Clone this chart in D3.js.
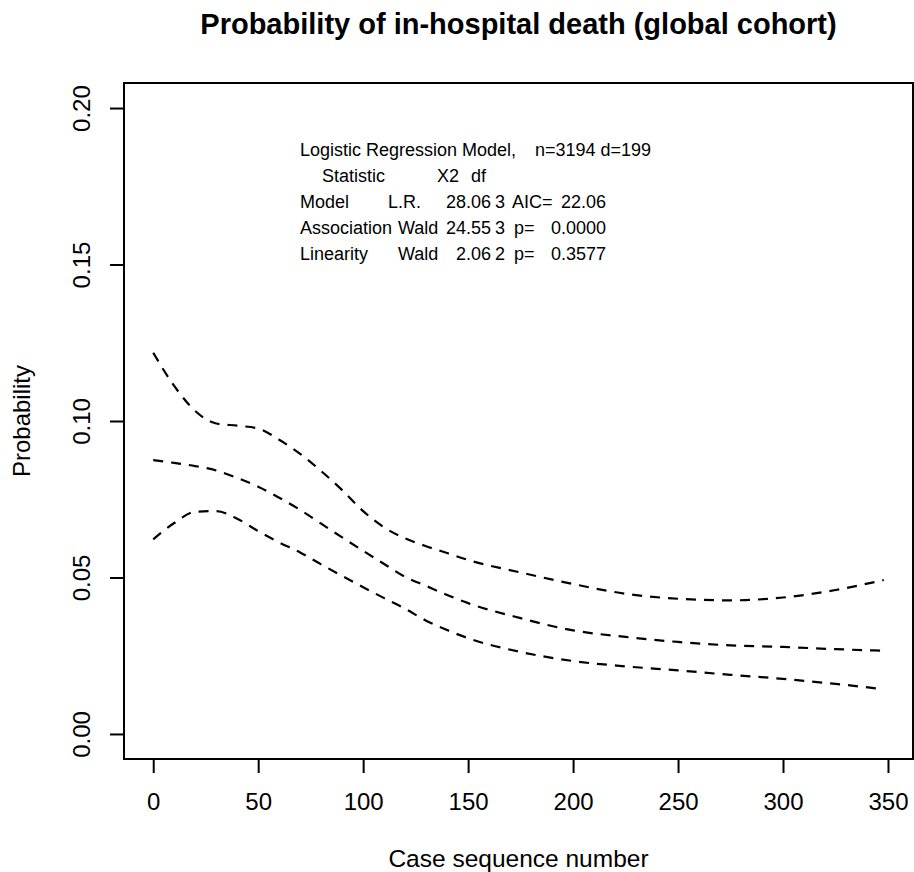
<!DOCTYPE html>
<html>
<head>
<meta charset="utf-8">
<script src="https://cdn.jsdelivr.net/npm/d3@7"></script>
<style>
  body { margin: 0; background: #fff; }
  text { font-family: "Liberation Sans", Arial, Helvetica, sans-serif; fill: #000; }
</style>
</head>
<body>
<svg id="chart" width="914" height="872"></svg>
<script>
var caseNo = [0, 10, 20, 30, 40, 50, 60, 70, 80, 90, 100, 110, 120, 130, 140, 150, 175, 200, 225, 250, 275, 300, 325, 348];
// fitted probability and its confidence band
var fitted = [0.0875, 0.0866, 0.0856, 0.0842, 0.0818, 0.0790, 0.0755, 0.0716, 0.0672, 0.0628, 0.0585, 0.0543, 0.0502, 0.0473, 0.0444, 0.0418, 0.0370, 0.0331, 0.0310, 0.0294, 0.0283, 0.0278, 0.0271, 0.0266];
var upper  = [0.1218, 0.1112, 0.1032, 0.0992, 0.0985, 0.0976, 0.0940, 0.0895, 0.0840, 0.0779, 0.0712, 0.0660, 0.0625, 0.0600, 0.0578, 0.0556, 0.0516, 0.0479, 0.0448, 0.0432, 0.0427, 0.0436, 0.0460, 0.0492];
var lower  = [0.0622, 0.0674, 0.0710, 0.0712, 0.0688, 0.0648, 0.0612, 0.0580, 0.0542, 0.0505, 0.0469, 0.0434, 0.0400, 0.0362, 0.0332, 0.0306, 0.0262, 0.0233, 0.0216, 0.0203, 0.0189, 0.0176, 0.0160, 0.0143];

var xTicks = [0, 50, 100, 150, 200, 250, 300, 350];
var yTicks = [0.00, 0.05, 0.10, 0.15, 0.20];

// model statistics printed in the plot, one row per line
var statsRows = [
  ["Logistic Regression Model,", "n=3194 d=199"],
  ["Statistic", "X2", "df"],
  ["Model", "L.R.", "28.06", "3", "AIC=", "22.06"],
  ["Association", "Wald", "24.55", "3", "p=", "0.0000"],
  ["Linearity", "Wald", "2.06", "2", "p=", "0.3577"]
];
// where each cell starts, same shape as statsRows (layout only)
var statsCols = [
  [300, 535],
  [322, 437, 471],
  [300, 388, 446, 495, 512, 561],
  [300, 398, 446, 495, 514, 551],
  [300, 398, 456, 495, 514, 551]
];

var svg = d3.select("#chart");
var box = {left: 124, right: 913, top: 83, bottom: 759};

// R style: 4% padding around the data range
var xMin = 0, xMax = 348, yMin = 0, yMax = 0.2;
var xPad = (xMax - xMin) * 0.04, yPad = (yMax - yMin) * 0.04;
var x = d3.scaleLinear().domain([xMin - xPad, xMax + xPad]).range([box.left, box.right]);
var y = d3.scaleLinear().domain([yMin - yPad, yMax + yPad]).range([box.bottom, box.top]);

svg.append("rect")
  .attr("x", box.left).attr("y", box.top)
  .attr("width", box.right - box.left).attr("height", box.bottom - box.top)
  .attr("fill", "none").attr("stroke", "#000").attr("stroke-width", 2);

var xAxis = svg.append("g")
  .attr("transform", "translate(0," + box.bottom + ")")
  .call(d3.axisBottom(x).tickValues(xTicks).tickSize(14).tickFormat(d3.format("d")));
var yAxis = svg.append("g")
  .attr("transform", "translate(" + box.left + ",0)")
  .call(d3.axisLeft(y).tickValues(yTicks).tickSize(14).tickFormat(d3.format(".2f")));

[xAxis, yAxis].forEach(function(a) {
  a.select(".domain").remove();
  a.selectAll(".tick line").attr("stroke", "#000").attr("stroke-width", 2);
  a.selectAll("text").style("font-size", "24px").attr("fill", "#000");
});
xAxis.selectAll(".tick text").attr("dy", null).attr("y", 51);

yAxis.selectAll(".tick text")
  .attr("x", null).attr("dy", null)
  .attr("transform", "translate(-34,0) rotate(-90)")
  .style("text-anchor", "middle");

var line = d3.line()
  .x(function(d) { return x(d[0]); })
  .y(function(d) { return y(d[1]); })
  .curve(d3.curveMonotoneX);

[upper, fitted, lower].forEach(function(series) {
  svg.append("path")
    .datum(caseNo.map(function(c, i) { return [c, series[i]]; }))
    .attr("d", line)
    .attr("fill", "none")
    .attr("stroke", "#000")
    .attr("stroke-width", 2.2)
    .attr("stroke-dasharray", "10,8");
});

svg.append("text")
  .attr("x", (box.left + box.right) / 2).attr("y", 34)
  .attr("text-anchor", "middle")
  .style("font-size", "29px").style("font-weight", "bold")
  .text("Probability of in-hospital death (global cohort)");

svg.append("text")
  .attr("x", (box.left + box.right) / 2).attr("y", 867)
  .attr("text-anchor", "middle")
  .style("font-size", "24.5px")
  .text("Case sequence number");

svg.append("text")
  .attr("transform", "translate(30," + ((box.top + box.bottom) / 2) + ") rotate(-90)")
  .attr("text-anchor", "middle")
  .style("font-size", "24px")
  .text("Probability");

var rows = svg.append("g").selectAll("g")
  .data(statsRows)
  .enter().append("g")
  .attr("transform", function(d, i) { return "translate(0," + (156 + i * 26) + ")"; });

rows.each(function(row, i) {
  d3.select(this).selectAll("text")
    .data(row)
    .enter().append("text")
    .attr("x", function(d, j) { return statsCols[i][j]; })
    .style("font-size", "18px")
    .text(function(d) { return d; });
});
</script>
</body>
</html>
